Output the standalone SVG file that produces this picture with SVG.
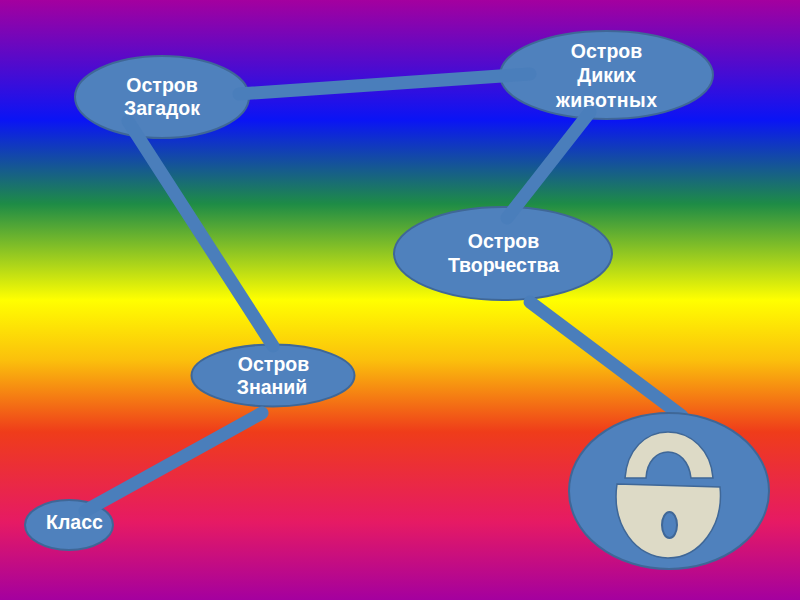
<svg xmlns="http://www.w3.org/2000/svg" width="800" height="600" viewBox="0 0 800 600">
<style>
.n{fill:#4f81bd;stroke:#3f6797;stroke-width:2}
.c{fill:none;stroke:#4a7ebb;stroke-width:13;stroke-linecap:round}
.t{font-family:"Liberation Sans",Arial,sans-serif;font-size:19.5px;font-weight:bold;fill:#fff;text-anchor:middle}
.l{fill:#dddac6;stroke:#3f6797;stroke-width:1.5}
</style>
<defs>
<linearGradient id="bg" x1="0" y1="0" x2="0" y2="1">
<stop offset="0" stop-color="#a4009f"/>
<stop offset="0.2" stop-color="#0a14f5"/>
<stop offset="0.34" stop-color="#1e8c46"/>
<stop offset="0.5" stop-color="#ffff00"/>
<stop offset="0.6" stop-color="#fbc00c"/>
<stop offset="0.72" stop-color="#ef3c1a"/>
<stop offset="0.87" stop-color="#e61a64"/>
<stop offset="1" stop-color="#a4009f"/>
</linearGradient>
</defs>
<rect width="800" height="600" fill="url(#bg)"/>
<g id="nodes">
<g id="zagadok"><ellipse class="n" cx="162" cy="97" rx="87" ry="41"/><text class="t" x="162" y="92">Остров</text><text class="t" x="162" y="115">Загадок</text></g>
<g id="dikih"><ellipse class="n" cx="606.500" cy="75" rx="106.500" ry="44"/><text class="t" x="606.500" y="58">Остров</text><text class="t" x="606.500" y="82">Диких</text><text class="t" x="606.500" y="107" textLength="101">животных</text></g>
<g id="tvorchestva"><ellipse class="n" cx="503" cy="253.500" rx="109" ry="46.500"/><text class="t" x="503.500" y="248">Остров</text><text class="t" x="503.500" y="272">Творчества</text></g>
<g id="znaniy"><ellipse class="n" cx="273" cy="375.500" rx="81.500" ry="31"/><text class="t" x="273.500" y="371">Остров</text><text class="t" x="272" y="394">Знаний</text></g>
<g id="klass"><ellipse class="n" cx="69" cy="525" rx="44" ry="25"/><text class="t" x="74.500" y="529">Класс</text></g>
</g>
<g id="connectors">
<path class="c" d="M239 94L530 74"/>
<path class="c" d="M590 112L507 218"/>
<path class="c" d="M128 121L273 346"/>
<path class="c" d="M262 413L85 511"/>
<path class="c" d="M530 302L682 416"/>
</g>
<g id="lock">
<ellipse class="n" cx="669" cy="491" rx="100" ry="78"/>
<path class="l" d="M625 478C627 450 645 432 668 432C691 432 711 450 713 478L691 478C689 461 679 452 668 452C657 452 647 461 646 478Z"/>
<path class="l" d="M617 484L720 487C724 525 700 558 668 558C636 558 611 525 617 484Z"/>
<ellipse class="n" cx="669.500" cy="525" rx="7.500" ry="13"/>
</g>
</svg>
